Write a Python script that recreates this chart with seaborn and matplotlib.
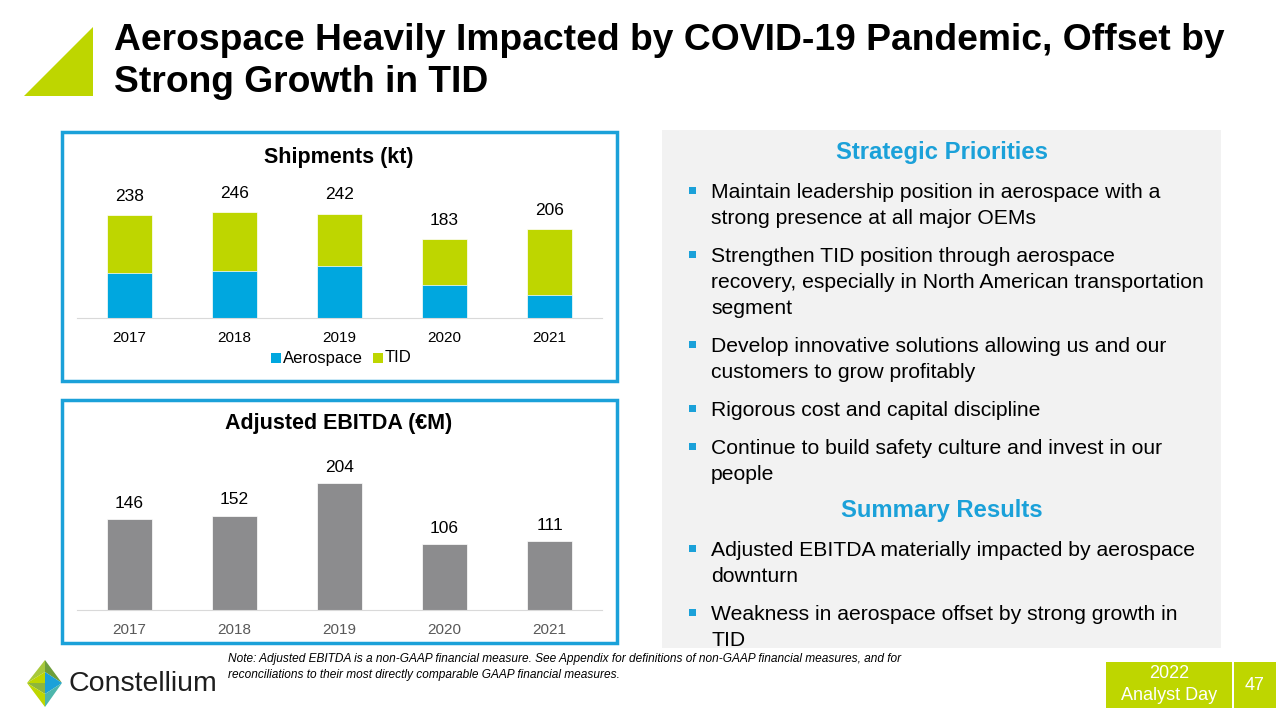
import matplotlib
matplotlib.use("Agg")
import matplotlib.pyplot as plt
import seaborn as sns
import pandas as pd
from matplotlib.patches import Rectangle, Polygon

# --- Data ---
years = ["2017", "2018", "2019", "2020", "2021"]
aerospace_kt = [105, 110, 120, 77, 53]
tid_kt = [133, 136, 122, 106, 153]
shipments_total = [238, 246, 242, 183, 206]
ebitda = [146, 152, 204, 106, 111]

strategic = [
    ["Maintain leadership position in aerospace with a", "strong presence at all major OEMs"],
    ["Strengthen TID position through aerospace",
     "recovery, especially in North American transportation", "segment"],
    ["Develop innovative solutions allowing us and our", "customers to grow profitably"],
    ["Rigorous cost and capital discipline"],
    ["Continue to build safety culture and invest in our", "people"],
]
summary = [
    ["Adjusted EBITDA materially impacted by aerospace", "downturn"],
    ["Weakness in aerospace offset by strong growth in", "TID"],
]

BLUE = "#00A7DF"
GREEN = "#BED600"
GREY = "#8C8C8E"
FRAME = "#1BA1D9"

sns.set_style("white")
plt.rcParams["font.family"] = ["Liberation Sans", "DejaVu Sans"]
plt.rcParams["text.color"] = "black"

W, H = 1280, 720
fig = plt.figure(figsize=(12.8, 7.2), dpi=100)

# background axes in pixel coordinates
bg = fig.add_axes([0, 0, 1, 1], zorder=0)
bg.set_xlim(0, W)
bg.set_ylim(H, 0)
bg.axis("off")


def px_axes(x0, y0, x1, y1):
    return fig.add_axes([x0 / W, 1 - y1 / H, (x1 - x0) / W, (y1 - y0) / H], zorder=2)


# --- Title and triangle ---
bg.add_patch(Polygon([(24, 96), (93, 96), (93, 27)], closed=True, color=GREEN, lw=0))
bg.text(114, 40, "Aerospace Heavily Impacted by COVID-19 Pandemic, Offset by",
        fontsize=26.8, fontweight="bold", va="center", ha="left")
bg.text(114, 83, "Strong Growth in TID",
        fontsize=26.8, fontweight="bold", va="center", ha="left")

# --- Chart frames ---
bg.add_patch(Rectangle((62, 132), 555, 249, fill=False, ec=FRAME, lw=2.5))
bg.add_patch(Rectangle((62, 400), 555, 243, fill=False, ec=FRAME, lw=2.5))

# --- Shipments chart ---
ship = pd.DataFrame({"year": years, "Aerospace": aerospace_kt, "TID": tid_kt,
                     "total": shipments_total})
ax1 = px_axes(77, 170, 602, 318)
sns.barplot(data=ship, x="year", y="total", color=GREEN, width=0.42,
            saturation=1, ax=ax1, edgecolor="white", linewidth=0.5)
sns.barplot(data=ship, x="year", y="Aerospace", color=BLUE, width=0.42,
            saturation=1, ax=ax1, edgecolor="white", linewidth=0.5)
ax1.bar_label(ax1.containers[0], labels=[str(v) for v in shipments_total],
              padding=8, fontsize=12.5)
ax1.set_ylim(0, 343)
ax1.set_xlim(-0.5, 4.5)
ax1.set_xlabel("")
ax1.set_ylabel("")
ax1.set_yticks([])
ax1.tick_params(axis="x", length=0, labelsize=11, pad=9, colors="black")
sns.despine(ax=ax1, left=True)
ax1.spines["bottom"].set_color("#D9D9D9")
ax1.patch.set_alpha(0)
bg.text(339, 157, "Shipments (kt)", fontsize=15.5, fontweight="bold",
        ha="center", va="center")
# legend
bg.add_patch(Rectangle((271, 353), 10, 10, color=BLUE, lw=0))
bg.text(283, 358, "Aerospace", fontsize=12, va="center")
bg.add_patch(Rectangle((373, 353), 10, 10, color=GREEN, lw=0))
bg.text(385, 358, "TID", fontsize=12, va="center")

# --- EBITDA chart ---
eb = pd.DataFrame({"year": years, "ebitda": ebitda})
ax2 = px_axes(77, 440, 602, 610)
sns.barplot(data=eb, x="year", y="ebitda", color=GREY, width=0.42,
            saturation=1, ax=ax2, edgecolor="white", linewidth=0.5)
ax2.bar_label(ax2.containers[0], padding=6, fontsize=12.5)
ax2.set_ylim(0, 274)
ax2.set_xlim(-0.5, 4.5)
ax2.set_xlabel("")
ax2.set_ylabel("")
ax2.set_yticks([])
ax2.tick_params(axis="x", length=0, labelsize=11, pad=9, colors="#595959")
sns.despine(ax=ax2, left=True)
ax2.spines["bottom"].set_color("#D9D9D9")
ax2.patch.set_alpha(0)
bg.text(339, 423, "Adjusted EBITDA (€M)", fontsize=15.5, fontweight="bold",
        ha="center", va="center")

# --- Right-hand text panel ---
bg.add_patch(Rectangle((662, 130), 559, 518, color="#F2F2F2", lw=0))


def heading(y, s):
    bg.text(942, y, s, fontsize=17.2, fontweight="bold", color=FRAME,
            ha="center", va="center")


def bullets(y, items, gap=12):
    line_h = 26
    for item in items:
        bg.add_patch(Rectangle((689, y - 5), 7, 7, color=FRAME, lw=0))
        for line in item:
            bg.text(711, y, line, fontsize=15.2, va="center", ha="left")
            y += line_h
        y += gap
    return y


heading(153, "Strategic Priorities")
bullets(192, strategic)
heading(510, "Summary Results")
bullets(550, summary)

# --- Footer ---
bg.text(228, 659, "Note: Adjusted EBITDA is a non-GAAP financial measure. See Appendix for definitions "
        "of non-GAAP financial measures, and for", fontsize=8.6, style="italic", va="center")
bg.text(228, 675, "reconciliations to their most directly comparable GAAP financial measures.",
        fontsize=8.6, style="italic", va="center")

# logo mark
top, right, bottom, left, mid = (45, 660), (62, 683), (45, 707), (27, 683), (45, 683)
bg.add_patch(Polygon([top, (45, 672), left], color="#A8C93A", lw=0))
bg.add_patch(Polygon([top, right, (45, 672)], color="#6E9E3A", lw=0))
bg.add_patch(Polygon([left, (45, 672), mid], color="#BED600", lw=0))
bg.add_patch(Polygon([(45, 672), right, mid], color="#1BA1D9", lw=0))
bg.add_patch(Polygon([left, mid, (45, 694)], color="#8DB63C", lw=0))
bg.add_patch(Polygon([mid, right, (45, 694)], color="#1BA1D9", lw=0))
bg.add_patch(Polygon([left, (45, 694), bottom], color="#BED600", lw=0))
bg.add_patch(Polygon([(45, 694), right, bottom], color="#4DB6AC", lw=0))
bg.text(69, 684, "Constellium", fontsize=20.5, color="#1E1E1E", va="center", ha="left")

# event badge
bg.add_patch(Rectangle((1106, 662), 126, 46, color=GREEN, lw=0))
bg.add_patch(Rectangle((1234, 662), 42, 46, color=GREEN, lw=0))
bg.text(1169, 674, "2022", fontsize=13, color="white", ha="center", va="center")
bg.text(1169, 696, "Analyst Day", fontsize=13, color="white", ha="center", va="center")
bg.text(1255, 685, "47", fontsize=13, color="white", ha="center", va="center")

fig.savefig("out.png", dpi=100)
